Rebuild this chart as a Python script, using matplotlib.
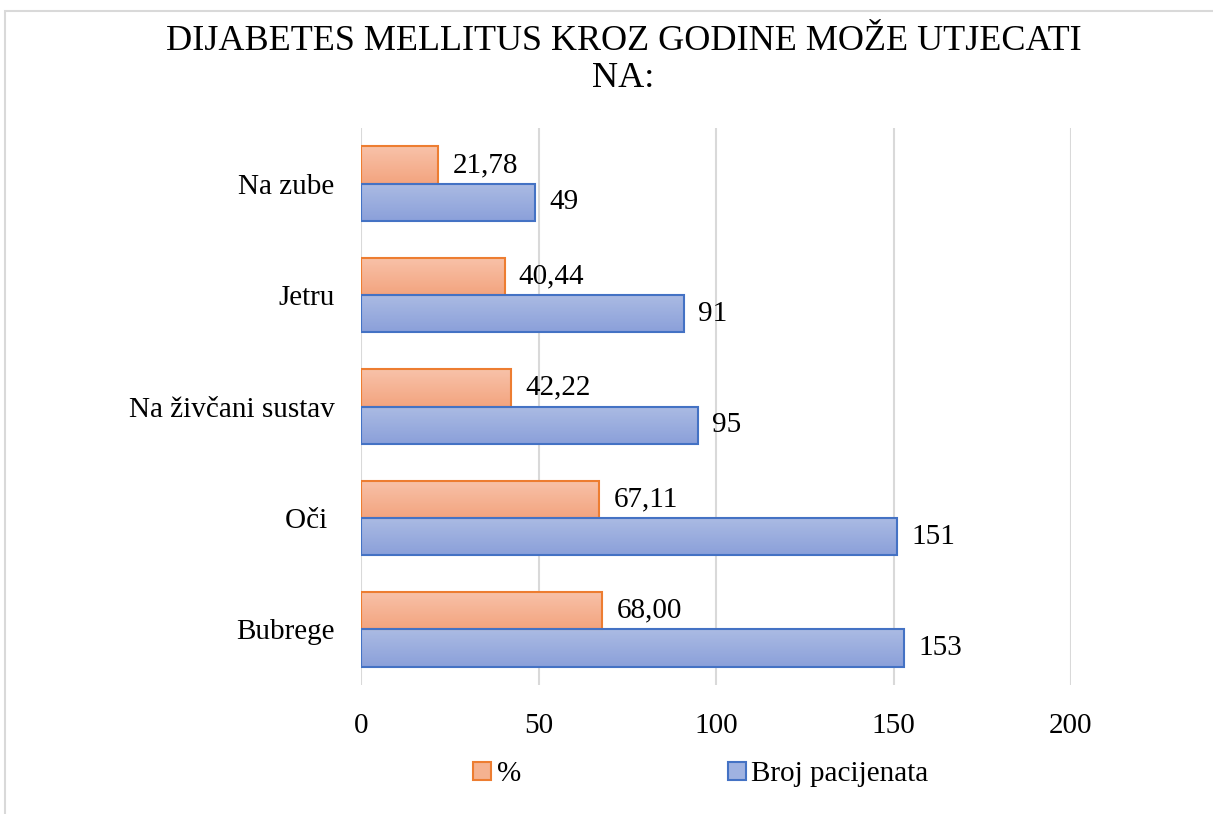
import matplotlib.pyplot as plt
import numpy as np
from matplotlib.patches import Rectangle, Patch
from matplotlib.colors import LinearSegmentedColormap

plt.rcParams['font.family'] = ['Liberation Serif', 'DejaVu Serif']

categories = ["Na zube", "Jetru", "Na živčani sustav", "Oči ", "Bubrege"]
postotak = [21.78, 40.44, 42.22, 67.11, 68.00]
broj = [49, 91, 95, 151, 153]
xticks = [0, 50, 100, 150, 200]

fig = plt.figure(figsize=(12.13, 8.14), dpi=100)
ax = fig.add_axes([361 / 1213, 1 - 685 / 814, 710 / 1213, 557 / 814])

y = np.arange(len(categories))
h = 0.335
bars_o = ax.barh(y - h / 2, postotak, height=h, color="none", edgecolor="#ED7D31",
                 linewidth=1.5, zorder=3)
bars_b = ax.barh(y + h / 2, broj, height=h, color="none", edgecolor="#4472C4",
                 linewidth=1.5, zorder=3)

# gradient fill inside each bar
grad = np.linspace(0, 1, 64).reshape(-1, 1)
cm_o = LinearSegmentedColormap.from_list("o", ["#F8C2A9", "#F3A47F"])
cm_b = LinearSegmentedColormap.from_list("b", ["#ABBBE3", "#8BA0DA"])
for bars, cm in ((bars_o, cm_o), (bars_b, cm_b)):
    for b in bars:
        x0, y0 = b.get_x(), b.get_y()
        w, hh = b.get_width(), b.get_height()
        ax.imshow(grad, cmap=cm, aspect="auto", extent=(x0, x0 + w, y0 + hh, y0),
                  zorder=2.5, interpolation="bilinear")

for yi, v in zip(y, postotak):
    ax.text(v + 4, yi - h / 2, f"{v:.2f}".replace(".", ","), va="center",
            ha="left", fontsize=21)
for yi, v in zip(y, broj):
    ax.text(v + 4, yi + h / 2, str(v), va="center", ha="left", fontsize=21)

ax.set_xlim(0, 200)
ax.set_ylim(len(categories) - 0.5, -0.5)
ax.set_xticks(xticks)
ax.set_yticks(y)
ax.set_yticklabels(categories)
ax.tick_params(axis="both", length=0, labelsize=21)
ax.tick_params(axis="x", pad=20)
ax.tick_params(axis="y", pad=19)
ax.grid(axis="x", color="#D9D9D9", linewidth=1.5, zorder=0)
for s in ax.spines.values():
    s.set_visible(False)

fig.text(0.514, 0.949, "DIJABETES MELLITUS KROZ GODINE MOŽE UTJECATI", ha="center",
         va="center", fontsize=26)
fig.text(0.514, 0.903, "NA:", ha="center", va="center", fontsize=26)

handles = [Patch(facecolor="#F5B290", edgecolor="#ED7D31", linewidth=1.5),
           Patch(facecolor="#9FB2E1", edgecolor="#4472C4", linewidth=1.5)]
fig.legend(handles, ["%", "Broj pacijenata"], loc="center",
           bbox_to_anchor=(0.578, 0.049), ncol=2, frameon=False,
           fontsize=21, handlelength=0.6, handleheight=0.6, handletextpad=0.2,
           columnspacing=7.1)

fig.patches.append(Rectangle((0.004, -0.01), 1.0, 1.0 - 0.004, transform=fig.transFigure,
                             fill=False, edgecolor="#D9D9D9", linewidth=1.5))

fig.savefig("out.png", dpi=100)
